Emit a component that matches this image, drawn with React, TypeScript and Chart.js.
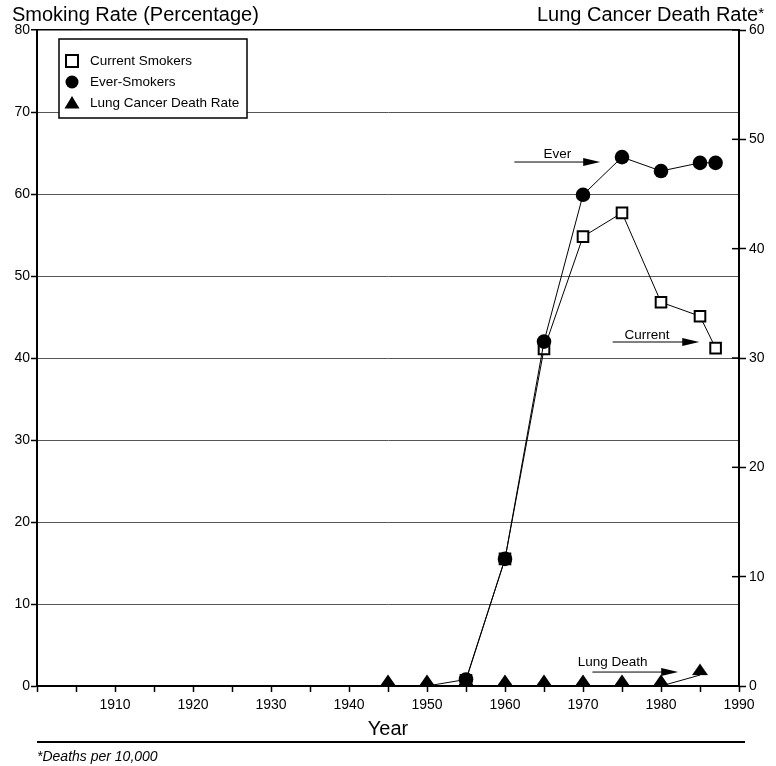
import React, { useEffect, useRef } from 'react';
import { Chart, registerables } from 'chart.js';

Chart.register(...registerables);

// ---- data ----
const currentYears = [1955, 1960, 1965, 1970, 1975, 1980, 1985, 1987];
const currentRates = [0.7, 15.5, 41.1, 54.8, 57.7, 46.8, 45.1, 41.2];

const everYears = [1950, 1955, 1960, 1965, 1970, 1975, 1980, 1985, 1987];
const everRates = [0, 0.8, 15.5, 42.0, 59.9, 64.5, 62.8, 63.8, 63.8];

const lungYears = [1945, 1950, 1955, 1960, 1965, 1970, 1975, 1980, 1985];
const lungRates = [0, 0, 0, 0, 0, 0, 0, 0, 1.0];

const seriesLabels = ['Current Smokers', 'Ever-Smokers', 'Lung Cancer Death Rate'];
const leftTitle = 'Smoking Rate (Percentage)';
const rightTitle = 'Lung Cancer Death Rate';
const xTitle = 'Year';
const footnote = '*Deaths per 10,000';

// arrow notes (data units: year, left-axis percentage)
const noteTexts = ['Ever', 'Current', 'Lung Death'];
const noteTextYears = [1966.7, 1978.2, 1973.8];
const noteTextValues = [64.8, 42.8, 2.9];
const noteFromYears = [1961.2, 1973.8, 1971.2];
const noteToYears = [1972.2, 1984.9, 1982.2];
const noteArrowValues = [63.9, 41.95, 1.7];

const FONT = '"Liberation Sans", Arial, Helvetica, sans-serif';

function makeTriangle(): HTMLCanvasElement {
  const c = document.createElement('canvas');
  c.width = 18;
  c.height = 24;
  const g = c.getContext('2d')!;
  g.fillStyle = '#000';
  g.beginPath();
  g.moveTo(9, 0.5);
  g.lineTo(17, 12);
  g.lineTo(1, 12);
  g.closePath();
  g.fill();
  return c;
}

const decorPlugin = {
  id: 'decor',
  afterDraw(chart: any) {
    const { ctx, chartArea, scales } = chart;
    const xs = scales.x;
    const ys = scales.y;
    const y1 = scales.y1;
    ctx.save();

    // inner half of right-axis cross ticks
    ctx.strokeStyle = '#000';
    ctx.lineWidth = 1.5;
    y1.ticks.forEach((t: any) => {
      const py = y1.getPixelForValue(t.value);
      ctx.beginPath();
      ctx.moveTo(chartArea.right - 7, py);
      ctx.lineTo(chartArea.right, py);
      ctx.stroke();
    });

    // titles
    ctx.fillStyle = '#000';
    ctx.textBaseline = 'alphabetic';
    ctx.textAlign = 'left';
    ctx.font = `20px ${FONT}`;
    ctx.fillText(leftTitle, 12, 21);
    ctx.font = `15px ${FONT}`;
    const starW = ctx.measureText('*').width;
    ctx.textAlign = 'right';
    ctx.fillText('*', 764, 18);
    ctx.font = `20px ${FONT}`;
    ctx.fillText(rightTitle, 764 - starW, 21);

    // footnote
    ctx.lineWidth = 2;
    ctx.beginPath();
    ctx.moveTo(37, 742);
    ctx.lineTo(745, 742);
    ctx.stroke();
    ctx.textAlign = 'left';
    ctx.font = `italic 14px ${FONT}`;
    ctx.fillText(footnote, 37, 761);

    // arrows
    ctx.lineWidth = 1;
    for (let i = 0; i < noteTexts.length; i++) {
      const xa = xs.getPixelForValue(noteFromYears[i]);
      const xb = xs.getPixelForValue(noteToYears[i]);
      const ya = ys.getPixelForValue(noteArrowValues[i]);
      ctx.beginPath();
      ctx.moveTo(xa, ya);
      ctx.lineTo(xb - 14, ya);
      ctx.stroke();
      ctx.beginPath();
      ctx.moveTo(xb, ya);
      ctx.lineTo(xb - 17, ya - 4);
      ctx.lineTo(xb - 17, ya + 4);
      ctx.closePath();
      ctx.fill();
      ctx.font = `13.5px ${FONT}`;
      ctx.textAlign = 'center';
      ctx.textBaseline = 'middle';
      ctx.fillText(noteTexts[i], xs.getPixelForValue(noteTextYears[i]), ys.getPixelForValue(noteTextValues[i]));
    }

    // legend box
    const bx = 59, by = 39, bw = 188, bh = 79;
    ctx.fillStyle = '#fff';
    ctx.fillRect(bx, by, bw, bh);
    ctx.strokeStyle = '#000';
    ctx.lineWidth = 1.5;
    ctx.strokeRect(bx, by, bw, bh);
    const rows = [61, 82, 103];
    const mx = 72;
    // square
    ctx.fillStyle = '#fff';
    ctx.fillRect(mx - 6, rows[0] - 6, 12, 12);
    ctx.lineWidth = 2;
    ctx.strokeRect(mx - 6, rows[0] - 6, 12, 12);
    // circle
    ctx.fillStyle = '#000';
    ctx.beginPath();
    ctx.arc(mx, rows[1], 6.5, 0, Math.PI * 2);
    ctx.fill();
    // triangle
    ctx.beginPath();
    ctx.moveTo(mx, rows[2] - 7);
    ctx.lineTo(mx + 7.5, rows[2] + 5.5);
    ctx.lineTo(mx - 7.5, rows[2] + 5.5);
    ctx.closePath();
    ctx.fill();
    ctx.font = `13.5px ${FONT}`;
    ctx.textAlign = 'left';
    ctx.textBaseline = 'middle';
    seriesLabels.forEach((s, i) => ctx.fillText(s, 90, rows[i]));

    ctx.restore();
  },
};

export default function App() {
  const ref = useRef<HTMLCanvasElement>(null);

  useEffect(() => {
    if (!ref.current) return;
    const tri = makeTriangle();
    const chart = new Chart(ref.current, {
      type: 'line',
      data: {
        datasets: [
          {
            label: seriesLabels[0],
            data: currentYears.map((yr, i) => ({ x: yr, y: currentRates[i] })),
            yAxisID: 'y',
            borderColor: '#000',
            borderWidth: 1,
            backgroundColor: '#fff',
            pointStyle: 'rect',
            pointRadius: 7.5,
            pointBorderWidth: 2,
            pointBorderColor: '#000',
            pointBackgroundColor: '#fff',
            tension: 0,
            order: 1,
          },
          {
            label: seriesLabels[1],
            data: everYears.map((yr, i) => ({ x: yr, y: everRates[i] })),
            yAxisID: 'y',
            borderColor: '#000',
            borderWidth: 1,
            backgroundColor: '#000',
            pointStyle: 'circle',
            pointRadius: (c: any) => (c.dataIndex === 0 ? 0 : 7.3),
            pointBorderWidth: 0,
            pointBackgroundColor: '#000',
            tension: 0,
            order: 0,
          },
          {
            label: seriesLabels[2],
            data: lungYears.map((yr, i) => ({ x: yr, y: lungRates[i] })),
            yAxisID: 'y1',
            borderColor: '#000',
            borderWidth: 1,
            backgroundColor: '#000',
            pointStyle: tri as any,
            pointRadius: 9,
            tension: 0,
            order: 2,
          },
        ],
      },
      options: {
        animation: false,
        responsive: false,
        devicePixelRatio: 1,
        layout: { padding: { top: 30, left: 0, right: 0, bottom: 0 } },
        plugins: { legend: { display: false }, tooltip: { enabled: false } },
        scales: {
          x: {
            type: 'linear',
            position: 'bottom',
            min: 1900,
            max: 1990,
            afterFit: (s: any) => {
              s.height = 80;
            },
            ticks: {
              stepSize: 5,
              autoSkip: false,
              maxRotation: 0,
              minRotation: 0,
              color: '#000',
              padding: 5,
              font: { size: 14, family: FONT },
              callback: (v: any) => (Number(v) % 10 === 0 && Number(v) !== 1900 ? String(v) : ''),
            },
            grid: {
              drawOnChartArea: false,
              drawTicks: true,
              tickLength: 6,
              color: '#000',
              tickColor: '#000',
              tickWidth: 1.5,
            },
            border: { display: true, color: '#000', width: 2 },
            title: {
              display: true,
              text: xTitle,
              color: '#000',
              font: { size: 20, family: FONT },
              padding: { top: 0, bottom: 25 },
            },
          },
          y: {
            type: 'linear',
            position: 'left',
            min: 0,
            max: 80,
            afterFit: (s: any) => {
              s.width = 37;
            },
            ticks: {
              stepSize: 10,
              color: '#000',
              padding: 1,
              font: { size: 14, family: FONT },
            },
            grid: {
              drawOnChartArea: true,
              drawTicks: true,
              tickLength: 6,
              color: (c: any) => (c.tick && c.tick.value === 80 ? '#000' : '#555'),
              lineWidth: (c: any) => (c.tick && c.tick.value === 80 ? 1.5 : 1),
              tickColor: '#000',
              tickWidth: 1.5,
            },
            border: { display: true, color: '#000', width: 2 },
          },
          y1: {
            type: 'linear',
            position: 'right',
            min: 0,
            max: 60,
            afterFit: (s: any) => {
              s.width = 37;
            },
            ticks: {
              stepSize: 10,
              color: '#000',
              padding: 3,
              font: { size: 14, family: FONT },
            },
            grid: {
              drawOnChartArea: false,
              drawTicks: true,
              tickLength: 7,
              tickColor: '#000',
              tickWidth: 1.5,
            },
            border: { display: true, color: '#000', width: 2 },
          },
        },
      },
      plugins: [decorPlugin],
    });
    return () => chart.destroy();
  }, []);

  return (
    <div style={{ position: 'absolute', left: 0, top: 0, width: 776, height: 766, background: '#fff' }}>
      <canvas ref={ref} width={776} height={766} style={{ display: 'block' }} />
    </div>
  );
}
